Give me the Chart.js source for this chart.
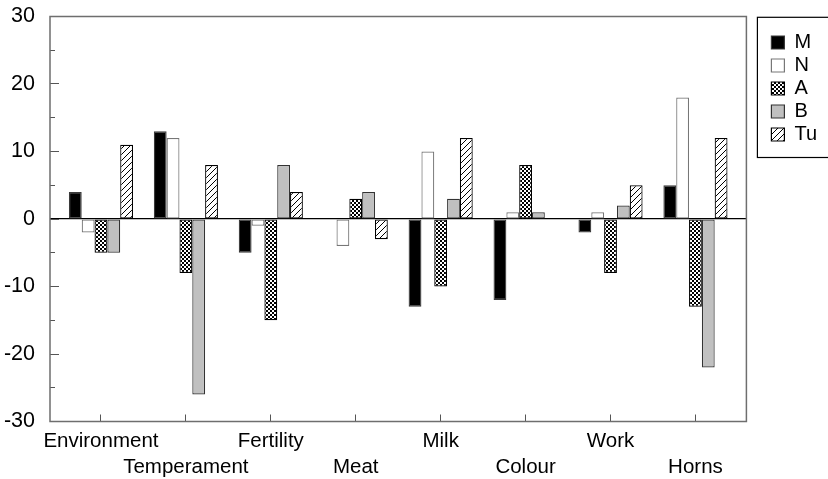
<!DOCTYPE html>
<html>
<head>
<meta charset="utf-8">
<script src="https://cdn.jsdelivr.net/npm/chart.js@4"></script>
<style>
  html, body { margin: 0; padding: 0; background: #fff; }
  #wrap { width: 828px; height: 479px; position: relative; }
</style>
</head>
<body>
<div id="wrap"><canvas id="c" width="828" height="479"></canvas></div>
<script>
const categories = ['Environment', 'Temperament', 'Fertility', 'Meat', 'Milk', 'Colour', 'Work', 'Horns'];
const seriesNames = ['M', 'N', 'A', 'B', 'Tu'];
const M  = [4, 13, -5, 0, -13, -12, -2, 5];
const N  = [-2, 12, -1, -4, 10, 1, 1, 18];
const A  = [-5, -8, -15, 3, -10, 8, -8, -13];
const B  = [-5, -26, 8, 4, 3, 1, 2, -22];
const Tu = [11, 8, 4, -3, 12, 0, 5, 12];
const yTicks = [-30, -20, -10, 0, 10, 20, 30];

const FONT = 'Liberation Sans, Arial, Helvetica, sans-serif';

function makePattern(size, drawFn) {
  const cv = document.createElement('canvas');
  cv.width = size; cv.height = size;
  const g = cv.getContext('2d');
  g.fillStyle = '#ffffff';
  g.fillRect(0, 0, size, size);
  drawFn(g, size);
  return g.createPattern(cv, 'repeat');
}
const checker = makePattern(4, (g) => {
  g.fillStyle = '#000';
  g.fillRect(0, 0, 2, 2);
  g.fillRect(2, 2, 2, 2);
});
const hatch = makePattern(6, (g, s) => {
  g.strokeStyle = '#000';
  g.lineWidth = 1;
  g.beginPath();
  g.moveTo(0, s); g.lineTo(s, 0);
  g.moveTo(-1, 1); g.lineTo(1, -1);
  g.moveTo(s - 1, s + 1); g.lineTo(s + 1, s - 1);
  g.stroke();
});

const seriesValues = [M, N, A, B, Tu];
const fills = ['#000000', '#ffffff', checker, '#c0c0c0', hatch];
const borders = ['#3a3a3a', '#777777', '#000000', '#333333', '#000000'];

const datasets = seriesNames.map((name, k) => ({
  label: name,
  data: seriesValues[k].map((v, i) => ({ x: i + 1, y: v })),
  backgroundColor: fills[k],
  borderColor: borders[k],
  borderWidth: 1.2,
  borderSkipped: false,
  barPercentage: 1.0,
  categoryPercentage: 0.755
}));

const framePlugin = {
  id: 'frame',
  afterDraw(chart) {
    const { ctx, chartArea: a } = chart;
    ctx.save();
    ctx.strokeStyle = '#6e6e6e';
    ctx.lineWidth = 1.5;
    ctx.strokeRect(a.left, a.top, a.right - a.left, a.bottom - a.top);
    const lg = chart.legend;
    if (lg && lg.legendHitBoxes && lg.legendHitBoxes.length) {
      const hb = lg.legendHitBoxes[lg.legendHitBoxes.length - 1];
      const bottom = hb.top + hb.height + 13;
      ctx.strokeStyle = '#000';
      ctx.lineWidth = 1.2;
      ctx.strokeRect(lg.left - 11, a.top + 0.8, 200, bottom - a.top - 0.8);
    }
    ctx.restore();
  }
};

new Chart(document.getElementById('c'), {
  type: 'bar',
  data: { datasets },
  plugins: [framePlugin],
  options: {
    responsive: false,
    animation: false,
    devicePixelRatio: 1,
    layout: { padding: { top: 16.5, right: 1, bottom: 0, left: 0 } },
    plugins: {
      tooltip: { enabled: false },
      legend: {
        position: 'right',
        align: 'start',
        title: { display: true, text: ' ', font: { size: 10, lineHeight: 1 }, padding: { top: 3, bottom: 0 } },
        labels: {
          boxWidth: 13,
          boxHeight: 13,
          padding: 3,
          color: '#000',
          font: { family: FONT, size: 20 }
        }
      }
    },
    scales: {
      x: {
        type: 'linear',
        min: 0.4,
        max: 8.6,
        offset: false,
        afterBuildTicks(s) { s.ticks = categories.map((c, i) => ({ value: i + 1 })); },
        afterFit(s) { s.height = 57.5; },
        border: { display: false },
        grid: { offset: false, drawOnChartArea: false, drawTicks: true, tickLength: -7, tickColor: '#555', tickWidth: 1 },
        ticks: {
          autoSkip: false,
          maxRotation: 0,
          minRotation: 0,
          padding: 13.5,
          color: '#000',
          font: { family: FONT, size: 20.5, lineHeight: 26 / 20.5 },
          callback(value) {
            const i = Math.round(value) - 1;
            const name = categories[i] || '';
            return i % 2 === 0 ? [name, ''] : ['', name];
          }
        }
      },
      y: {
        position: 'left',
        weight: 2,
        min: -30,
        max: 30,
        afterBuildTicks(s) { s.ticks = yTicks.map(v => ({ value: v })); },
        afterFit(s) { s.width = 35; },
        border: { display: false },
        grid: {
          drawOnChartArea: true,
          drawTicks: false,
          color: (c) => (c.tick && c.tick.value === 0 ? '#000' : 'rgba(0,0,0,0)'),
          lineWidth: 1.2
        },
        ticks: {
          padding: 0,
          color: '#000',
          font: { family: FONT, size: 21.5 }
        }
      },
      ymaj: {
        position: 'left',
        weight: 1,
        min: -30,
        max: 30,
        afterBuildTicks(s) { s.ticks = yTicks.map(v => ({ value: v })); },
        afterFit(s) { s.width = 15; },
        border: { display: false },
        grid: { drawOnChartArea: false, drawTicks: true, tickLength: -9, tickColor: '#555', tickWidth: 1 },
        ticks: { display: false }
      },
      ymin: {
        position: 'left',
        weight: 0,
        min: -30,
        max: 30,
        afterBuildTicks(s) {
          const t = [];
          for (let k = 0; k < yTicks.length - 1; k++) t.push({ value: (yTicks[k] + yTicks[k + 1]) / 2 });
          s.ticks = t;
        },
        afterFit(s) { s.width = 0; },
        border: { display: false },
        grid: { drawOnChartArea: false, drawTicks: true, tickLength: -5, tickColor: '#555', tickWidth: 1 },
        ticks: { display: false }
      },
      yr: {
        position: 'right',
        display: true,
        afterFit(s) { s.width = 22; },
        border: { display: false },
        grid: { display: false },
        ticks: { display: false }
      }
    }
  }
});
</script>
</body>
</html>
